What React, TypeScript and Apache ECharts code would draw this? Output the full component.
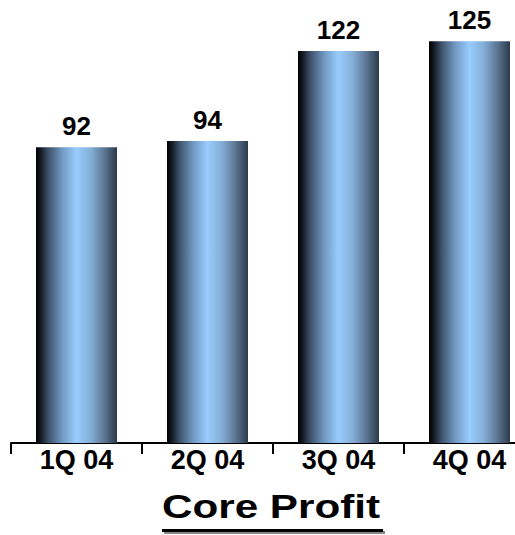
import React, { useEffect, useRef } from "react";
import * as echarts from "echarts";

const categories = ["1Q 04", "2Q 04", "3Q 04", "4Q 04"];
const values = [92, 94, 122, 125];
const chartTitle = "Core Profit";

export default function App() {
  const ref = useRef<HTMLDivElement>(null);
  useEffect(() => {
    if (!ref.current) return;
    const chart = echarts.init(ref.current, null, { renderer: "svg" });
    const barGradient = new echarts.graphic.LinearGradient(0, 0, 1, 0, [
      { offset: 0, color: "#000000" },
      { offset: 0.05, color: "#10161d" },
      { offset: 0.15, color: "#3c5068" },
      { offset: 0.32, color: "#7098c0" },
      { offset: 0.5, color: "#99ccff" },
      { offset: 0.68, color: "#84aed6" },
      { offset: 0.85, color: "#5a7390" },
      { offset: 1, color: "#2c3a4a" },
    ]);
    chart.setOption({
      animation: false,
      backgroundColor: "#ffffff",
      grid: {
        left: 11,
        width: 524,
        top: 22,
        bottom: 92,
        containLabel: false,
        outerBoundsMode: "none",
      },
      xAxis: {
        type: "category",
        data: categories,
        axisLine: { show: true, lineStyle: { color: "#000", width: 2 } },
        axisTick: { show: true, length: 11, lineStyle: { color: "#000", width: 2 } },
        axisLabel: {
          margin: 3,
          color: "#000",
          fontSize: 27,
          fontWeight: "bold",
          fontFamily: "Liberation Sans, Arial, sans-serif",
        },
      },
      yAxis: {
        type: "value",
        min: 0,
        max: 131,
        show: false,
        splitLine: { show: false },
      },
      series: [
        {
          type: "bar",
          data: values,
          barWidth: 81,
          itemStyle: { color: barGradient },
          label: {
            show: true,
            position: "top",
            distance: 8,
            color: "#000",
            fontSize: 26,
            fontWeight: "bold",
            fontFamily: "Liberation Sans, Arial, sans-serif",
          },
        },
      ],
      graphic: [
        {
          type: "rect",
          shape: { x: 164, y: 531, width: 221, height: 3 },
          style: { fill: "#888" },
          z: 9,
        },
        {
          type: "rect",
          shape: { x: 162, y: 529, width: 221, height: 3 },
          style: { fill: "#000" },
          z: 10,
        },
        {
          type: "text",
          x: 271,
          y: 507,
          scaleX: 1.28,
          z: 10,
          style: {
            text: chartTitle,
            fill: "#000",
            fontSize: 33,
            fontWeight: "bold",
            fontFamily: "Liberation Sans, Arial, sans-serif",
            align: "center",
            verticalAlign: "middle",
            textShadowColor: "rgba(0,0,0,0.5)",
            textShadowOffsetX: 2,
            textShadowOffsetY: 2,
            textShadowBlur: 0,
          },
        },
      ],
    });
    return () => chart.dispose();
  }, []);
  return <div ref={ref} style={{ width: 515, height: 535, position: "absolute", left: 0, top: 0 }} />;
}
